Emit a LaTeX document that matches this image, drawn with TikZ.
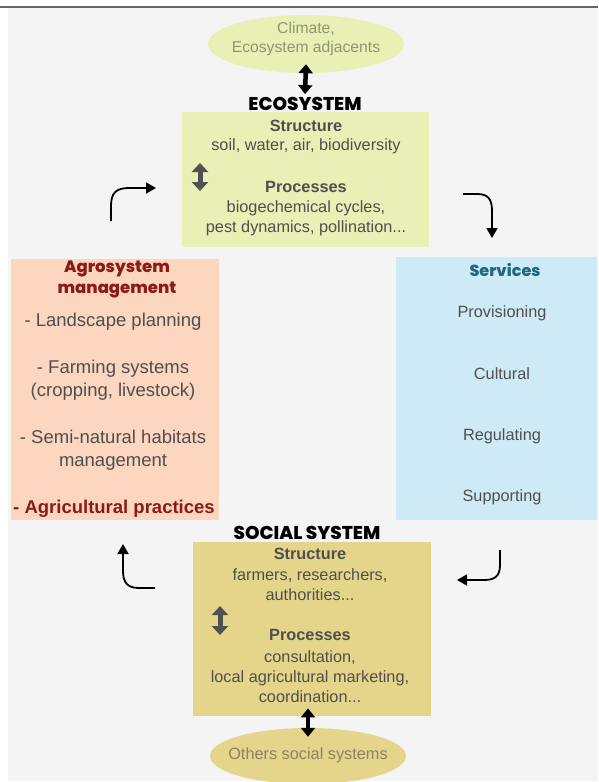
\documentclass[tikz,border=0pt]{standalone}
\usepackage{fontspec}
\setmainfont{Liberation Sans}
\newfontfamily\headfont{Poppins}[UprightFont={* ExtraBold}]
\usetikzlibrary{arrows.meta,shapes.geometric}
\definecolor{bggray}{HTML}{F4F4F4}
\definecolor{topline}{HTML}{666666}
\definecolor{ecofill}{HTML}{E9F0B6}
\definecolor{agrofill}{HTML}{FCD6BF}
\definecolor{servfill}{HTML}{CEEAF6}
\definecolor{socfill}{HTML}{E5D58B}
\definecolor{txt}{HTML}{4F4F4F}
\definecolor{darkred}{HTML}{8B1A1A}
\definecolor{teal}{HTML}{1B6A80}
\definecolor{climtxt}{HTML}{8E9670}
\definecolor{othtxt}{HTML}{8C8262}
\definecolor{arrgray}{HTML}{505050}
\tikzset{
  panel/.style={draw=none, anchor=north west, inner sep=0pt},
  body/.style={text=txt, font=\fontsize{16.3}{20}\selectfont, align=center, inner sep=0pt},
  bodyb/.style={body, font=\bfseries\fontsize{16.3}{20}\selectfont},
  agrotext/.style={text=txt, font=\fontsize{18.5}{22.5}\selectfont, align=center, inner sep=0pt},
  heading/.style={font=\headfont\fontsize{18.5}{20}\selectfont, text=black, inner sep=0pt},
  fatarrow/.style={line width=4.5pt, {Triangle[width=14pt,length=9pt]}-{Triangle[width=14pt,length=9pt]}},
  grayarrow/.style={arrgray, line width=5pt, {Triangle[width=16pt,length=9pt]}-{Triangle[width=16pt,length=9pt]}},
  curvearrow/.style={line width=1.8pt, -{Triangle[width=11pt,length=10pt]}}
}
\begin{document}
\begin{tikzpicture}[x=1pt,y=-1pt]
\useasboundingbox (0,0) rectangle (598,782);
\fill[bggray] (8,8) rectangle (598,781);
\draw[topline, line width=1.6pt] (0,7) -- (598,7);

% top ellipse
\node[ellipse, fill=ecofill, minimum width=196pt, minimum height=58pt, inner sep=0pt] (clim) at (306,44) {};
\node[text=climtxt, font=\fontsize{15.7}{19.5}\selectfont, align=center, inner sep=0pt] (climt) at (306,39) {Climate,\\Ecosystem adjacents};

% ecosystem
\node[heading] (ecot) at (305,104) {ECOSYSTEM};
\node[panel, fill=ecofill, minimum width=247pt, minimum height=135pt] (eco) at (182,112) {};
\node[bodyb] (es) at (306,126) {Structure};
\node[body] (es2) at (306,146) {soil, water, air, biodiversity};
\node[bodyb] (ep) at (306,187) {Processes};
\node[body] (ep2) at (306,218) {biogechemical cycles,\\pest dynamics, pollination...};
\coordinate (ea1) at (200,163);
\coordinate (ea2) at (200,191);
\draw[grayarrow] (ea1) -- (ea2);

\draw[fatarrow] ([yshift=9pt]clim.south) -- ([yshift=3pt]ecot.north);

% agrosystem
\node[panel, fill=agrofill, minimum width=208pt, minimum height=261pt] (agro) at (11,259) {};
\node[font=\headfont\fontsize{16.5}{21}\selectfont, text=darkred, align=center, inner sep=0pt] (agrot) at (117,279) {Agrosystem\\management};
\node[agrotext] (a1) at (113,322) {- Landscape planning};
\node[agrotext] (a2) at (113,380) {- Farming systems\\(cropping, livestock)};
\node[agrotext] (a3) at (113,450) {- Semi-natural habitats\\management};
\node[agrotext, font=\bfseries\fontsize{18.5}{22.5}\selectfont, text=darkred] (a4) at (114,509) {- Agricultural practices};

% services
\node[panel, fill=servfill, minimum width=201pt, minimum height=263pt] (serv) at (396,257) {};
\node[font=\headfont\fontsize{16}{18}\selectfont, text=teal, inner sep=0pt] (servt) at (505,270) {Services};
\node[body] (s1) at (502,313) {Provisioning};
\node[body] (s2) at (502,374) {Cultural};
\node[body] (s3) at (502,436) {Regulating};
\node[body] (s4) at (502,497) {Supporting};

% social
\node[heading] (soct) at (307,533) {SOCIAL SYSTEM};
\node[panel, fill=socfill, minimum width=238pt, minimum height=174pt] (soc) at (193,542) {};
\node[bodyb] (ss) at (310,554) {Structure};
\node[body] (ss2) at (310,585) {farmers, researchers,\\authorities...};
\node[bodyb] (sp) at (310,635) {Processes};
\node[body] (sp2) at (310,677) {consultation,\\local agricultural marketing,\\coordination...};
\coordinate (sa1) at (220,606);
\coordinate (sa2) at (220,635);
\draw[grayarrow] (sa1) -- (sa2);

% bottom ellipse
\node[ellipse, fill=socfill, minimum width=196pt, minimum height=56pt, inner sep=0pt] (oth) at (308,756) {};
\node[text=othtxt, font=\fontsize{16.3}{20}\selectfont, inner sep=0pt] (otht) at (308,755) {Others social systems};
\draw[fatarrow] ([yshift=8pt]soc.south -| oth.north) -- ([yshift=-9pt]oth.north);

% cycle arrows
\coordinate (c1s) at (111,221);
\coordinate (c1e) at (156,188);
\draw[curvearrow] (c1s) -- (111,206) .. controls (111,193) and (116,188) .. (129,188) -- (c1e);
\coordinate (c2s) at (463,194);
\coordinate (c2e) at (492,238);
\draw[curvearrow] (c2s) -- (477,194) .. controls (488,194) and (492,199) .. (492,211) -- (c2e);
\coordinate (c3s) at (500,550);
\coordinate (c3e) at (457,580);
\draw[curvearrow] (c3s) -- (500,565) .. controls (500,576) and (495,580) .. (484,580) -- (c3e);
\coordinate (c4s) at (155,588);
\coordinate (c4e) at (123,544);
\draw[curvearrow] (c4s) -- (139,588) .. controls (128,588) and (123,583) .. (123,571) -- (c4e);
\end{tikzpicture}
\end{document}
